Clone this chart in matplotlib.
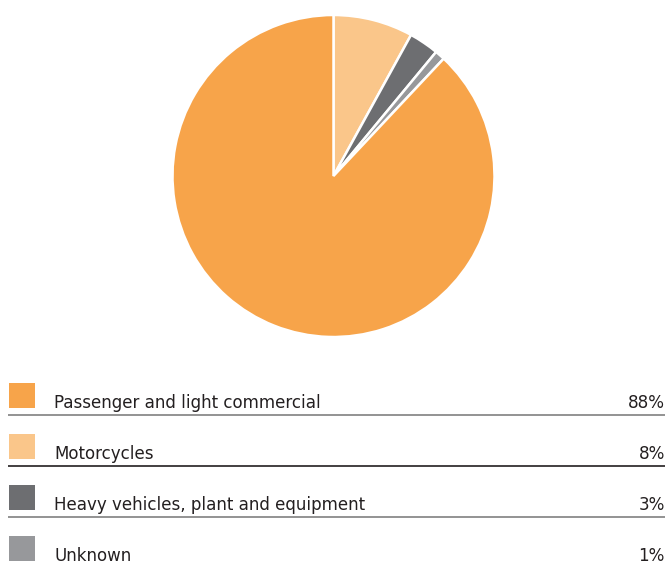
import matplotlib.pyplot as plt
from matplotlib.patches import Rectangle

# Data (clockwise from 12 o'clock, as in the reference)
pie_labels = ['Motorcycles', 'Heavy vehicles, plant and equipment', 'Unknown', 'Passenger and light commercial']
pie_values = [8, 3, 1, 88]
pie_colors = ['#FAC68A', '#6D6E71', '#97989B', '#F7A44A']

# Legend order (top to bottom)
legend_labels = ['Passenger and light commercial', 'Motorcycles',
                 'Heavy vehicles, plant and equipment', 'Unknown']
legend_values = [88, 8, 3, 1]
legend_colors = ['#F7A44A', '#FAC68A', '#6D6E71', '#97989B']
rule_colors = ['#808080', '#231F20', '#808080', None]

W, H = 669, 565
plt.rcParams['font.family'] = ['DejaVu Sans']
plt.rcParams['font.stretch'] = 'condensed'

fig = plt.figure(figsize=(W / 100, H / 100), dpi=100)

# Pie
cx, cy, r = 333.5, 176, 161
ax = fig.add_axes([(cx - r) / W, (H - cy - r) / H, 2 * r / W, 2 * r / H])
ax.pie(pie_values, colors=pie_colors, startangle=90, counterclock=False,
       wedgeprops=dict(edgecolor='white', linewidth=1.8))
ax.set_xlim(-1, 1)
ax.set_ylim(-1, 1)
ax.set_aspect('equal')

# Legend table drawn in pixel coordinates
lax = fig.add_axes([0, 0, 1, 1])
lax.set_xlim(0, W)
lax.set_ylim(H, 0)
lax.axis('off')

row_top = 383
row_step = 51
for i, (lab, val, col, rc) in enumerate(zip(legend_labels, legend_values, legend_colors, rule_colors)):
    y0 = row_top + i * row_step
    lax.add_patch(Rectangle((9, y0), 26, 25, facecolor=col, edgecolor='none'))
    lax.text(54, y0 + 25, lab, fontsize=13.3, color='#231F20', va='baseline', ha='left',
             fontstretch='condensed')
    lax.text(665, y0 + 25, f'{val}%', fontsize=13.3, color='#231F20', va='baseline', ha='right',
             fontstretch='condensed')
    if rc is not None:
        lax.plot([8, 665], [y0 + 32, y0 + 32], color=rc, linewidth=1.2, solid_capstyle='butt')

fig.savefig('out.png', dpi=100)
